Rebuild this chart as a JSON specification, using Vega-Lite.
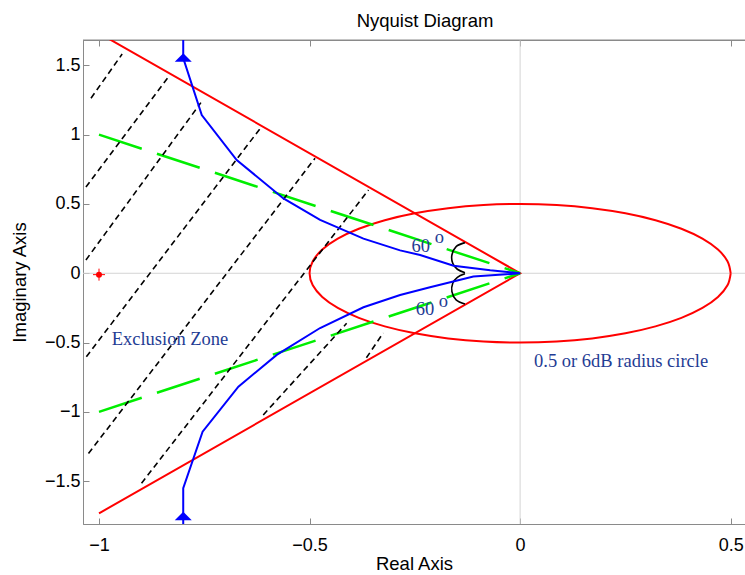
{
  "$schema": "https://vega.github.io/schema/vega-lite/v6.json",
  "width": 662,
  "height": 484,
  "autosize": {"type": "none"},
  "padding": {"left": 83, "top": 40, "right": 0, "bottom": 51},
  "background": "white",
  "title": {"text": "Nyquist Diagram", "font": "Liberation Sans", "fontSize": 18.5, "fontWeight": "normal", "color": "#000", "offset": 9, "dx": 11},
  "config": {
    "view": {"stroke": "#8a8a8a", "strokeWidth": 1},
    "axis": {"labelFont": "Liberation Sans", "labelFontSize": 18, "labelColor": "#000", "titleFont": "Liberation Sans", "titleFontSize": 18.5, "titleFontWeight": "normal", "titleColor": "#000", "domainColor": "#8a8a8a", "tickColor": "#8a8a8a", "grid": false, "tickSize": -6}
  },
  "datasets": {
    "zero": [{"v": 0}],
    "top": [{"v": 1.683}],
    "circle": [
      {"o":0,"x":0.5,"y":0},{"o":1,"x":0.4924,"y":0.0868},{"o":2,"x":0.4698,"y":0.171},{"o":3,"x":0.433,"y":0.25},{"o":4,"x":0.383,"y":0.3214},{"o":5,"x":0.3214,"y":0.383},{"o":6,"x":0.25,"y":0.433},{"o":7,"x":0.171,"y":0.4698},{"o":8,"x":0.0868,"y":0.4924},{"o":9,"x":0,"y":0.5},{"o":10,"x":-0.0868,"y":0.4924},{"o":11,"x":-0.171,"y":0.4698},{"o":12,"x":-0.25,"y":0.433},{"o":13,"x":-0.3214,"y":0.383},{"o":14,"x":-0.383,"y":0.3214},{"o":15,"x":-0.433,"y":0.25},{"o":16,"x":-0.4698,"y":0.171},{"o":17,"x":-0.4924,"y":0.0868},{"o":18,"x":-0.5,"y":0},{"o":19,"x":-0.4924,"y":-0.0868},{"o":20,"x":-0.4698,"y":-0.171},{"o":21,"x":-0.433,"y":-0.25},{"o":22,"x":-0.383,"y":-0.3214},{"o":23,"x":-0.3214,"y":-0.383},{"o":24,"x":-0.25,"y":-0.433},{"o":25,"x":-0.171,"y":-0.4698},{"o":26,"x":-0.0868,"y":-0.4924},{"o":27,"x":0,"y":-0.5},{"o":28,"x":0.0868,"y":-0.4924},{"o":29,"x":0.171,"y":-0.4698},{"o":30,"x":0.25,"y":-0.433},{"o":31,"x":0.3214,"y":-0.383},{"o":32,"x":0.383,"y":-0.3214},{"o":33,"x":0.433,"y":-0.25},{"o":34,"x":0.4698,"y":-0.171},{"o":35,"x":0.4924,"y":-0.0868},{"o":36,"x":0.5,"y":0}
    ],
    "redv": [{"o":0,"x":-1,"y":1.732},{"o":1,"x":0,"y":0},{"o":2,"x":-1,"y":-1.732}],
    "green": [{"g":"u","o":0,"x":-1,"y":1},{"g":"u","o":1,"x":0,"y":0},{"g":"l","o":0,"x":-1,"y":-1},{"g":"l","o":1,"x":0,"y":0}],
    "black": [
      {"g":"L1","o":0,"x":-1.019,"y":1.263},{"g":"L1","o":1,"x":-0.945,"y":1.582},
      {"g":"L2","o":0,"x":-1.031,"y":0.622},{"g":"L2","o":1,"x":-0.835,"y":1.418},
      {"g":"L3","o":0,"x":-1.031,"y":0.096},{"g":"L3","o":1,"x":-0.758,"y":1.231},
      {"g":"L4","o":0,"x":-1.03,"y":-0.602},{"g":"L4","o":1,"x":-0.614,"y":1.058},
      {"g":"L5","o":0,"x":-1.025,"y":-1.3},{"g":"L5","o":1,"x":-0.487,"y":0.83},
      {"g":"L6","o":0,"x":-0.899,"y":-1.515},{"g":"L6","o":1,"x":-0.36,"y":0.601},
      {"g":"L7","o":0,"x":-0.61,"y":-1.022},{"g":"L7","o":1,"x":-0.412,"y":-0.361},
      {"g":"L8","o":0,"x":-0.365,"y":-0.61},{"g":"L8","o":1,"x":-0.325,"y":-0.43}
    ],
    "arcs": [
      {"g":"u","o":0,"x":-0.131,"y":0.221},{"g":"u","o":1,"x":-0.152,"y":0.192},{"g":"u","o":2,"x":-0.162,"y":0.132},{"g":"u","o":3,"x":-0.16,"y":0.072},{"g":"u","o":4,"x":-0.149,"y":0.029},{"g":"u","o":5,"x":-0.131,"y":0.004},
      {"g":"l","o":0,"x":-0.131,"y":-0.004},{"g":"l","o":1,"x":-0.149,"y":-0.029},{"g":"l","o":2,"x":-0.16,"y":-0.072},{"g":"l","o":3,"x":-0.162,"y":-0.132},{"g":"l","o":4,"x":-0.152,"y":-0.192},{"g":"l","o":5,"x":-0.131,"y":-0.221}
    ],
    "blue": [
      {"o":0,"x":-0.8,"y":1.76},{"o":1,"x":-0.8,"y":1.553},{"o":2,"x":-0.756,"y":1.141},{"o":3,"x":-0.673,"y":0.817},{"o":4,"x":-0.562,"y":0.54},{"o":5,"x":-0.475,"y":0.385},{"o":6,"x":-0.372,"y":0.25},{"o":7,"x":-0.285,"y":0.165},{"o":8,"x":-0.2375,"y":0.132},{"o":9,"x":-0.158,"y":0.055},{"o":10,"x":-0.071,"y":0.022},{"o":11,"x":0,"y":0},{"o":12,"x":-0.111,"y":-0.024},{"o":13,"x":-0.214,"y":-0.101},{"o":14,"x":-0.285,"y":-0.157},{"o":15,"x":-0.372,"y":-0.245},{"o":16,"x":-0.475,"y":-0.395},{"o":17,"x":-0.578,"y":-0.589},{"o":18,"x":-0.669,"y":-0.818},{"o":19,"x":-0.754,"y":-1.143},{"o":20,"x":-0.8,"y":-1.551},{"o":21,"x":-0.8,"y":-1.85}
    ],
    "arrows": [{"x":-0.8,"y":1.556},{"x":-0.8,"y":-1.751}],
    "crit": [{"x":-1,"y":-0.01}],
    "labels": [
      {"t":"Exclusion Zone","x":-0.97,"y":-0.517},
      {"t":"0.5 or 6dB radius circle","x":0.033,"y":-0.674},
      {"t":"60","x":-0.258,"y":0.156},
      {"t":"o","x":-0.203,"y":0.216},
      {"t":"60","x":-0.248,"y":-0.301},
      {"t":"o","x":-0.193,"y":-0.241}
    ]
  },
  "resolve": {"scale": {"x": "independent"}, "axis": {"x": "independent"}},
  "layer": [
    {
      "layer": [
        {
          "data": {"name": "zero"},
          "mark": {"type": "rule", "color": "#d4d4d4", "strokeWidth": 1},
          "encoding": {
            "x": {"field": "v", "type": "quantitative", "scale": {"domain": [-1.038, 0.534], "nice": false, "zero": false}, "axis": {"title": "Real Axis", "values": [-1, -0.5, 0, 0.5], "format": "~g", "labelPadding": 18, "titlePadding": 0}}
          }
        },
        {
          "data": {"name": "zero"},
          "mark": {"type": "rule", "color": "#d4d4d4", "strokeWidth": 1},
          "encoding": {
            "y": {"field": "v", "type": "quantitative", "scale": {"domain": [-1.809, 1.683], "nice": false, "zero": false}, "axis": {"title": "Imaginary Axis", "values": [-1.5, -1, -0.5, 0, 0.5, 1, 1.5], "format": "~g", "labelPadding": 9, "titlePadding": 15}}
          }
        },
        {
          "data": {"name": "top"},
          "mark": {"type": "rule", "color": "#8a8a8a", "strokeWidth": 1},
          "encoding": {"y": {"field": "v", "type": "quantitative"}}
        },
        {
          "data": {"name": "circle"},
          "mark": {"type": "line", "color": "#ff0000", "strokeWidth": 2, "interpolate": "cardinal", "clip": true},
          "encoding": {"x": {"field": "x", "type": "quantitative"}, "y": {"field": "y", "type": "quantitative"}, "order": {"field": "o"}}
        },
        {
          "data": {"name": "redv"},
          "mark": {"type": "line", "color": "#ff0000", "strokeWidth": 2, "clip": true},
          "encoding": {"x": {"field": "x", "type": "quantitative"}, "y": {"field": "y", "type": "quantitative"}, "order": {"field": "o"}}
        },
        {
          "data": {"name": "green"},
          "mark": {"type": "line", "color": "#00ee00", "strokeWidth": 2.5, "strokeDash": [45, 16], "clip": true},
          "encoding": {"x": {"field": "x", "type": "quantitative"}, "y": {"field": "y", "type": "quantitative"}, "order": {"field": "o"}, "detail": {"field": "g"}}
        },
        {
          "data": {"name": "black"},
          "mark": {"type": "line", "color": "#000000", "strokeWidth": 1.6, "strokeDash": [6, 4], "clip": true},
          "encoding": {"x": {"field": "x", "type": "quantitative"}, "y": {"field": "y", "type": "quantitative"}, "order": {"field": "o"}, "detail": {"field": "g"}}
        },
        {
          "data": {"name": "arcs"},
          "mark": {"type": "line", "color": "#000000", "strokeWidth": 1.6, "interpolate": "cardinal"},
          "encoding": {"x": {"field": "x", "type": "quantitative"}, "y": {"field": "y", "type": "quantitative"}, "order": {"field": "o"}, "detail": {"field": "g"}}
        },
        {
          "data": {"name": "blue"},
          "mark": {"type": "line", "color": "#0000ff", "strokeWidth": 2, "clip": true},
          "encoding": {"x": {"field": "x", "type": "quantitative"}, "y": {"field": "y", "type": "quantitative"}, "order": {"field": "o"}}
        },
        {
          "data": {"name": "arrows"},
          "mark": {"type": "point", "shape": "M-1,0.5L1,0.5L0,-0.5Z", "size": 289, "filled": true, "color": "#0000ff", "opacity": 1},
          "encoding": {"x": {"field": "x", "type": "quantitative"}, "y": {"field": "y", "type": "quantitative"}}
        },
        {
          "data": {"name": "crit"},
          "mark": {"type": "point", "shape": "M-1,0L1,0M0,-1L0,1", "size": 144, "filled": false, "color": "#ff0000", "strokeWidth": 1, "opacity": 1},
          "encoding": {"x": {"field": "x", "type": "quantitative"}, "y": {"field": "y", "type": "quantitative"}}
        },
        {
          "data": {"name": "crit"},
          "mark": {"type": "point", "shape": "circle", "size": 36, "filled": true, "color": "#ff0000", "opacity": 1},
          "encoding": {"x": {"field": "x", "type": "quantitative"}, "y": {"field": "y", "type": "quantitative"}}
        },
        {
          "data": {"name": "labels"},
          "mark": {"type": "text", "font": "Liberation Serif", "fontSize": 18.5, "color": "#1f3c94", "align": "left", "baseline": "alphabetic"},
          "encoding": {"x": {"field": "x", "type": "quantitative"}, "y": {"field": "y", "type": "quantitative"}, "text": {"field": "t"}}
        }
      ]
    },
    {
      "data": {"name": "zero"},
      "mark": {"type": "point", "opacity": 0},
      "encoding": {
        "x": {"field": "v", "type": "quantitative", "scale": {"domain": [-1.038, 0.534], "nice": false, "zero": false}, "axis": {"orient": "top", "labels": false, "title": null, "values": [-1, -0.5, 0, 0.5]}}
      }
    }
  ]
}
